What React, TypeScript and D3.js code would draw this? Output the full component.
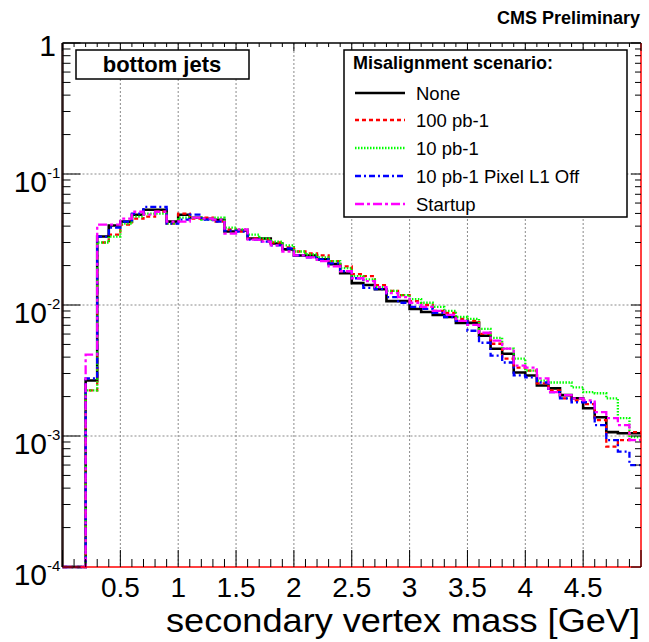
import React from "react";
import * as d3 from "d3";

// bin contents, 50 bins of 0.1 GeV from 0 to 5
const none = [0, 0, 0.00265, 0.0333, 0.0404, 0.0433, 0.0489, 0.0533, 0.0533, 0.0433,
  0.0489, 0.0464, 0.0456, 0.0448, 0.0364, 0.0370, 0.0322, 0.0322, 0.0295, 0.0266,
  0.0239, 0.0239, 0.0223, 0.0205, 0.0175, 0.0147, 0.0142, 0.0132, 0.0107, 0.0107,
  0.00933, 0.00885, 0.0084, 0.0081, 0.00731, 0.00731, 0.00582, 0.00464, 0.00425, 0.00305,
  0.00290, 0.00243, 0.00231, 0.00205, 0.00194, 0.00163, 0.00139, 0.00107, 0.00105, 0.00105];

const pb100 = [0, 0, 0.00223, 0.0300, 0.0345, 0.0411, 0.0456, 0.0472, 0.0515, 0.0418,
  0.0498, 0.0456, 0.0464, 0.0433, 0.0377, 0.0364, 0.0322, 0.0316, 0.0300, 0.0275,
  0.0256, 0.0248, 0.0239, 0.0216, 0.0197, 0.0172, 0.0166, 0.0142, 0.0128, 0.0119,
  0.0107, 0.0100, 0.00901, 0.00870, 0.00783, 0.00756, 0.00603, 0.00506, 0.00390, 0.00333,
  0.00316, 0.00252, 0.00223, 0.00194, 0.00187, 0.00175, 0.00132, 0.00083, 0.00093, 0.00107];

const pb10 = [0, 0, 0.00223, 0.0300, 0.0333, 0.0418, 0.0472, 0.0498, 0.0498, 0.0418,
  0.0464, 0.0464, 0.0448, 0.0464, 0.0390, 0.0377, 0.0345, 0.0322, 0.0305, 0.0285,
  0.0256, 0.0243, 0.0231, 0.0216, 0.0191, 0.0166, 0.0157, 0.0137, 0.0128, 0.0119,
  0.0111, 0.0104, 0.00966, 0.00901, 0.0081, 0.00783, 0.00658, 0.00562, 0.00464, 0.00390,
  0.00316, 0.00265, 0.00256, 0.00256, 0.00235, 0.00216, 0.00212, 0.00194, 0.00137, 0.00098];

const pb10L1Off = [0, 0, 0.00275, 0.0333, 0.0390, 0.0433, 0.0498, 0.0562, 0.0562, 0.0418,
  0.0448, 0.0489, 0.0448, 0.0433, 0.0370, 0.0364, 0.0316, 0.0305, 0.0285, 0.0270,
  0.0239, 0.0231, 0.0223, 0.0208, 0.0181, 0.0160, 0.0135, 0.0132, 0.0115, 0.0104,
  0.00966, 0.00933, 0.00870, 0.0081, 0.00756, 0.00636, 0.00515, 0.00411, 0.00364, 0.00290,
  0.00280, 0.00256, 0.00216, 0.00194, 0.00181, 0.00181, 0.00121, 0.00093, 0.00076, 0.00060];

const startup = [0, 0, 0.00418, 0.0411, 0.0411, 0.0456, 0.0515, 0.0489, 0.0515, 0.0433,
  0.0433, 0.0464, 0.0456, 0.0448, 0.0351, 0.0377, 0.0316, 0.0305, 0.0285, 0.0256,
  0.0239, 0.0231, 0.0216, 0.0197, 0.0181, 0.0160, 0.0152, 0.0137, 0.0123, 0.0115,
  0.0104, 0.00966, 0.00901, 0.0084, 0.00756, 0.00705, 0.00614, 0.00534, 0.00464, 0.00345,
  0.00333, 0.00275, 0.00216, 0.00205, 0.00194, 0.00187, 0.00152, 0.00137, 0.00121, 0.00093];

const seriesNames = ["None", "100 pb-1", "10 pb-1", "10 pb-1 Pixel L1 Off", "Startup"];
const seriesColors = ["#000000", "#ff0000", "#00ff00", "#0000ff", "#ff00ff"];
const seriesDash = ["none", "4,3", "1.5,1.5", "6,3,2,3", "9,3,3,3"];
const seriesData = [none, pb100, pb10, pb10L1Off, startup];

const xTickLabels = ["0.5", "1", "1.5", "2", "2.5", "3", "3.5", "4", "4.5"];
const yDecades = [0, -1, -2, -3, -4];

const binWidth = 0.1;
const font = "'Liberation Sans', Arial, Helvetica, sans-serif";

const App = () => {
  const left = 62.5, right = 641, top = 43, bottom = 567;
  const x = d3.scaleLinear().domain([0, 5]).range([left, right]);
  const y = d3.scaleLog().domain([1e-4, 1]).range([bottom, top]);

  // empty bins sit on the bottom of the log axis, like ROOT does
  const yv = (v: number) => y(v > 1e-4 ? v : 1e-4);

  const histPath = (vals: number[]) => {
    const pts: [number, number][] = vals.map((v, i) => [x(i * binWidth), yv(v)]);
    pts.push([x(vals.length * binWidth), yv(vals[vals.length - 1])]);
    return d3.line().curve(d3.curveStepAfter)(pts) || "";
  };

  const xMinor = d3.range(0, 51).map((i) => i * binWidth);
  const yMinor: number[] = [];
  for (let e = -4; e < 0; e++) {
    for (let m = 2; m <= 9; m++) yMinor.push(m * Math.pow(10, e));
  }

  const legendRowY = [93, 120, 148, 176, 204];

  return (
    <svg width={649} height={642} style={{ position: "absolute", left: 0, top: 0, background: "#fff" }}>
      <rect x={0} y={0} width={649} height={642} fill="#fff" />

      {/* grid */}
      {xTickLabels.map((t) => (
        <line key={"gx" + t} x1={x(+t)} x2={x(+t)} y1={top} y2={bottom}
          stroke="#8a8a8a" strokeWidth={1} strokeDasharray="2,2" />
      ))}
      {[-1, -2, -3].map((e) => (
        <line key={"gy" + e} x1={left} x2={right} y1={y(Math.pow(10, e))} y2={y(Math.pow(10, e))}
          stroke="#8a8a8a" strokeWidth={1} strokeDasharray="2,2" />
      ))}

      {/* histograms */}
      {seriesData.map((vals, i) => (
        <path key={"h" + i} d={histPath(vals)} fill="none" stroke={seriesColors[i]}
          strokeWidth={i === 0 ? 2.6 : 2.3} strokeDasharray={seriesDash[i]} />
      ))}

      {/* frame */}
      <line x1={left} x2={right} y1={top} y2={top} stroke="#000" strokeWidth={1.5} />
      <line x1={left} x2={left} y1={top} y2={bottom} stroke="#2a1616" strokeWidth={2.5} />
      <line x1={left} x2={right} y1={bottom} y2={bottom} stroke="#ff0000" strokeWidth={1.5} />
      <line x1={right} x2={right} y1={top} y2={bottom} stroke="#ff0000" strokeWidth={1.5} />

      {/* x ticks, bottom and top */}
      {xMinor.map((v, i) => {
        const major = i % 5 === 0;
        return (
          <g key={"xt" + i}>
            <line x1={x(v)} x2={x(v)} y1={bottom} y2={bottom - (major ? 17 : 8)} stroke="#000" strokeWidth={1} />
            <line x1={x(v)} x2={x(v)} y1={top} y2={top + (major ? 8 : 4)} stroke="#000" strokeWidth={1} />
          </g>
        );
      })}

      {/* y ticks, left and right */}
      {yDecades.map((e) => (
        <g key={"yM" + e}>
          <line x1={left} x2={left + 18} y1={y(Math.pow(10, e))} y2={y(Math.pow(10, e))} stroke="#000" strokeWidth={1} />
          <line x1={right} x2={right - 10} y1={y(Math.pow(10, e))} y2={y(Math.pow(10, e))} stroke="#000" strokeWidth={1} />
        </g>
      ))}
      {yMinor.map((v, i) => (
        <g key={"ym" + i}>
          <line x1={left} x2={left + 8} y1={y(v)} y2={y(v)} stroke="#000" strokeWidth={1} />
          <line x1={right} x2={right - 6} y1={y(v)} y2={y(v)} stroke="#000" strokeWidth={1} />
        </g>
      ))}

      {/* y labels */}
      <text x={56} y={y(1) + 13} fontFamily={font} fontSize={30} textAnchor="end" fill="#000">1</text>
      {yDecades.filter((e) => e < 0).map((e) => (
        <g key={"yl" + e} fontFamily={font} fill="#000">
          <text x={47} y={y(Math.pow(10, e)) + 18} fontSize={30} textAnchor="end">10</text>
          <text x={47} y={y(Math.pow(10, e)) + 4} fontSize={15}>{"-" + -e}</text>
        </g>
      ))}

      {/* x labels */}
      {xTickLabels.map((t) => (
        <text key={"xl" + t} x={x(+t)} y={597} fontFamily={font} fontSize={28} textAnchor="middle" fill="#000">{t}</text>
      ))}
      <text x={640} y={632} fontFamily={font} fontSize={33} textAnchor="end" fill="#000"
        textLength={474} lengthAdjust="spacingAndGlyphs">
        secondary vertex mass [GeV]
      </text>

      <text x={640} y={24} fontFamily={font} fontSize={18} fontWeight="bold" textAnchor="end" fill="#000">
        CMS Preliminary
      </text>

      {/* label box */}
      <rect x={76} y={50} width={173} height={29} fill="#fff" stroke="#000" strokeWidth={1.5} />
      <text x={162} y={72} fontFamily={font} fontSize={22} fontWeight="bold" textAnchor="middle" fill="#000">
        bottom jets
      </text>

      {/* legend */}
      <rect x={344} y={50} width={283} height={167} fill="#fff" stroke="#000" strokeWidth={1.5} />
      <text x={353} y={69} fontFamily={font} fontSize={18} fontWeight="bold" fill="#000">
        Misalignment scenario:
      </text>
      {seriesNames.map((name, i) => (
        <g key={"lg" + i}>
          <line x1={355} x2={405} y1={legendRowY[i]} y2={legendRowY[i]} stroke={seriesColors[i]}
            strokeWidth={i === 0 ? 2.6 : 2.3} strokeDasharray={seriesDash[i]} />
          <text x={416} y={legendRowY[i] + 7} fontFamily={font} fontSize={18.5} fill="#000">{name}</text>
        </g>
      ))}
    </svg>
  );
};

export default App;
